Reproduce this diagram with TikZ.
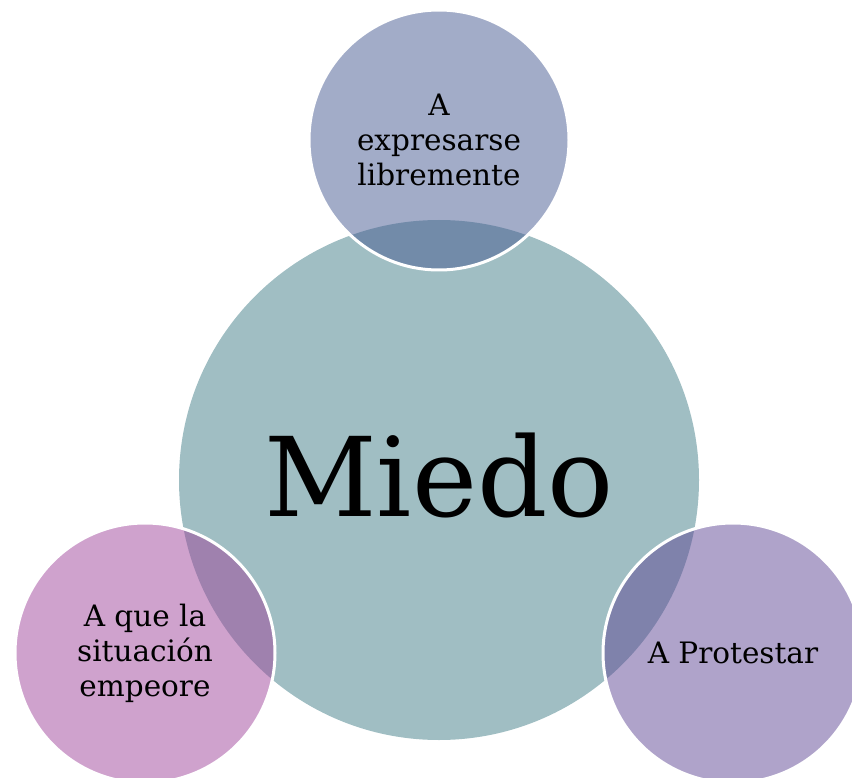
\documentclass[tikz,border=0pt]{standalone}
\usepackage{fontspec}
\setmainfont{DejaVu Serif}
\definecolor{miedocol}{RGB}{160,190,195}
\definecolor{topcol}{RGB}{69,89,145}
\definecolor{leftcol}{RGB}{159,69,155}
\definecolor{rightcol}{RGB}{95,71,149}

\begin{document}
\begin{tikzpicture}[x=1pt,y=-1pt,
  bubble/.style={circle,minimum size=260pt,inner sep=0pt,draw=white,line width=3pt,
    fill opacity=0.5,text opacity=1,align=center,font=\fontsize{29.5}{35}\selectfont}]
\useasboundingbox (0,0) rectangle (852,778);
\coordinate (c) at (439,480);
\coordinate (t) at (439,140);
\coordinate (l) at (145,653);
\coordinate (r) at (733,653);

\node[circle,minimum size=520pt,inner sep=0pt,fill=miedocol] (miedo) at (c) {};
\node[anchor=base,font=\fontsize{110}{120}\selectfont] (miedotext) at (439,516) {Miedo};

\node[bubble,fill=topcol] (expresarse) at (t) {A\\expresarse\\libremente};
\node[bubble,fill=leftcol] (empeore) at (l) {A que la\\situación\\empeore};
\node[bubble,fill=rightcol] (protestar) at (r) {A Protestar};

\end{tikzpicture}
\end{document}
